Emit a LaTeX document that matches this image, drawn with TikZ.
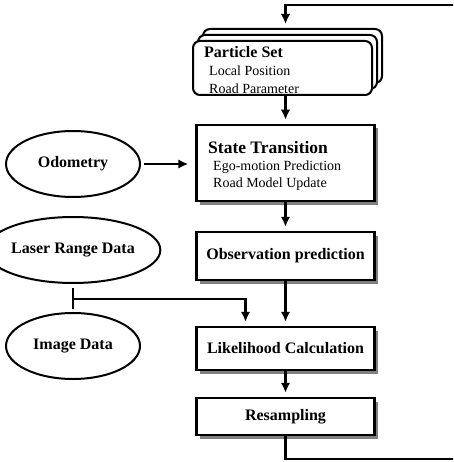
\documentclass[tikz,border=0pt]{standalone}
\usepackage{fontspec}
\setmainfont{Liberation Serif}
\usetikzlibrary{arrows.meta,shapes.geometric,shadows,calc}
\begin{document}
\begin{tikzpicture}[x=1pt,y=-1pt,
  conn/.style={line width=2.2pt,-{Latex[length=10pt,width=9.5pt]},shorten >=4pt},
  plainline/.style={line width=2.2pt},
  box/.style={draw,line width=2.5pt,fill=white,minimum width=178pt,inner sep=0pt,
    drop shadow={shadow xshift=3.5pt,shadow yshift=-3.5pt,fill=black!50,opacity=1},
    font=\bfseries\fontsize{16}{19}\selectfont},
  ell/.style={draw,ellipse,line width=2pt,minimum width=134pt,minimum height=66pt,inner sep=0pt,
    font=\bfseries\fontsize{16}{19}\selectfont},
  layer/.style={draw,line width=2pt,fill=white,rounded corners=7pt,minimum width=179pt,minimum height=54pt,inner sep=0pt},
  title/.style={anchor=west,inner sep=0pt,font=\bfseries\fontsize{16}{19}\selectfont},
  sub/.style={anchor=west,inner sep=0pt,font=\fontsize{14}{17}\selectfont},
]
\useasboundingbox (0,0) rectangle (453,462);
\path[clip] (0,0) rectangle (453,462);

% particle set (stacked)
\node[layer] (ps3) at (292.5,56) {};
\node[layer] (ps2) at (287.5,62) {};
\node[layer] (ps1) at (282.5,68) {};
\node[title] (pst) at (204,52) {Particle Set};
\node[sub] (psa) at (209,71) {Local Position};
\node[sub] (psb) at (209,89) {Road Parameter};

% boxes
\node[box,minimum height=76pt] (st) at (285.5,163) {};
\node[title,font=\bfseries\fontsize{17.5}{20}\selectfont] (stt) at (208,148) {State Transition};
\node[sub] (sta) at (213,167) {Ego-motion Prediction};
\node[sub] (stb) at (213,184) {Road Model Update};

\node[box,minimum height=48pt] (obs) at (285.5,256) {Observation prediction};
\node[box,minimum height=43pt] (lik) at (285.5,348.5) {Likelihood Calculation};
\node[box,minimum height=37pt] (res) at (285.5,416.5) {Resampling};

% ellipses
\node[ell] (odo) at (73,164) {Odometry};
\node[ell] (las) at (73,250) {Laser Range Data};
\node[ell] (img) at (73,346) {Image Data};

% loop coordinates
\coordinate (br) at (470,459);
\coordinate (tr) at (470,5);
\coordinate (tl) at (285.5,5);

% connectors
\draw[conn] (res.south) |- (br) -- (tr) -- (tl) -- (tl |- ps3.north);
\draw[conn] (st.north |- ps1.south) -- (st.north);
\draw[conn,shorten <=3pt,shorten >=7pt] (odo.east) -- (odo.east -| st.west);
\draw[conn] (st.south) -- (obs.north);
\draw[conn] (obs.south) -- (lik.north);
\draw[conn] (lik.south) -- (res.north);

\coordinate (tb) at ($(las.south)+(0,15)$);
\draw[plainline] ($(las.south)+(0,4)$) -- ($(las.south)+(0,25)$);
\draw[conn] (tb) -| ($(lik.north)+(-40,0)$);
\end{tikzpicture}
\end{document}
